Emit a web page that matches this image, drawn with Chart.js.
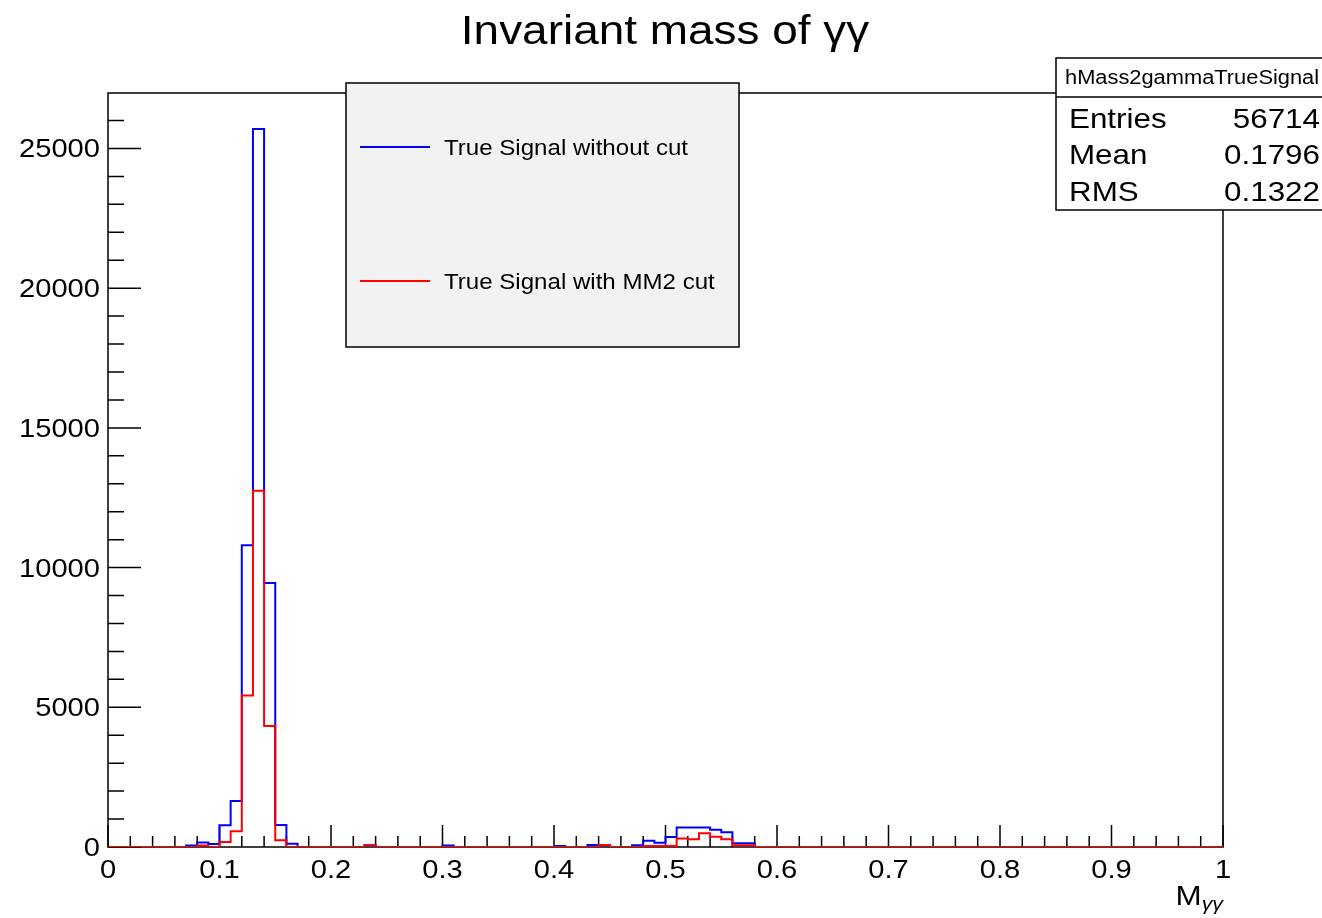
<!DOCTYPE html>
<html>
<head>
<meta charset="utf-8">
<title>Invariant mass of γγ</title>
<script src="https://cdn.jsdelivr.net/npm/chart.js@4.4.1/dist/chart.umd.min.js"></script>
<style>
    html, body { margin: 0; padding: 0; background: #ffffff; }
    canvas { display: block; }
</style>
</head>
<body>
<canvas id="massChart" width="1322" height="918"></canvas>
<script>
// histogram binning: 100 bins of 0.01 between 0 and 1
var binLow = 0;
var binWidth = 0.01;

// hMass2gammaTrueSignal, no cut
var countsNoCut = [
    0, 0, 0, 0, 0, 0, 0, 50, 160, 110,
    780, 1650, 10800, 25700, 9450, 790, 120, 0, 0, 0,
    0, 0, 0, 60, 0, 0, 0, 0, 0, 0,
    50, 0, 0, 0, 0, 0, 0, 0, 0, 0,
    40, 0, 0, 70, 70, 0, 0, 60, 220, 150,
    360, 700, 700, 700, 620, 530, 130, 130, 0, 0,
    0, 0, 0, 0, 0, 0, 0, 0, 0, 0,
    0, 0, 0, 0, 0, 0, 0, 0, 0, 0,
    0, 0, 0, 0, 0, 0, 0, 0, 0, 0,
    0, 0, 0, 0, 0, 0, 0, 0, 0, 0
];

// same, after the MM2 cut
var countsMM2Cut = [
    0, 0, 0, 0, 0, 0, 0, 0, 50, 0,
    180, 560, 5420, 12750, 4330, 240, 0, 0, 0, 0,
    0, 0, 0, 60, 0, 0, 0, 0, 0, 0,
    0, 0, 0, 0, 0, 0, 0, 0, 0, 0,
    0, 0, 0, 0, 70, 0, 0, 0, 40, 40,
    40, 300, 280, 490, 370, 280, 60, 60, 0, 0,
    0, 0, 0, 0, 0, 0, 0, 0, 0, 0,
    0, 0, 0, 0, 0, 0, 0, 0, 0, 0,
    0, 0, 0, 0, 0, 0, 0, 0, 0, 0,
    0, 0, 0, 0, 0, 0, 0, 0, 0, 0
];

var seriesLabels = ['True Signal without cut', 'True Signal with MM2 cut'];
var seriesColors = ['#0000ff', '#ff0000'];

var xTickValues = [0, 0.1, 0.2, 0.3, 0.4, 0.5, 0.6, 0.7, 0.8, 0.9, 1];
var xTickLabels = ['0', '0.1', '0.2', '0.3', '0.4', '0.5', '0.6', '0.7', '0.8', '0.9', '1'];
var yTickValues = [0, 5000, 10000, 15000, 20000, 25000];

var statsName = 'hMass2gammaTrueSignal';
var statsRows = [['Entries', '56714'], ['Mean', '0.1796'], ['RMS', '0.1322']];

var FONT = '"Liberation Sans", Arial, Helvetica, sans-serif';
var STRETCH = 1.12;

// points at the left bin edges, plus the right edge of the last bin
function toSteps(counts) {
    var pts = [];
    for (var i = 0; i < counts.length; i++) {
        pts.push({ x: binLow + i * binWidth, y: counts[i] });
    }
    pts.push({ x: binLow + counts.length * binWidth, y: counts[counts.length - 1] });
    return pts;
}

function drawText(ctx, text, x, y, size, align, style) {
    ctx.save();
    ctx.font = (style || '') + ' ' + size + 'px ' + FONT;
    ctx.textAlign = align || 'left';
    ctx.textBaseline = 'alphabetic';
    ctx.fillStyle = '#000000';
    ctx.translate(x, y);
    ctx.scale(STRETCH, 1);
    ctx.fillText(text, 0, 0);
    ctx.restore();
}

function textWidth(ctx, text, size, style) {
    ctx.save();
    ctx.font = (style || '') + ' ' + size + 'px ' + FONT;
    var w = ctx.measureText(text).width * STRETCH;
    ctx.restore();
    return w;
}

// frame, ticks and tick labels in the ROOT style (ticks inside the frame)
var frameAxes = {
    id: 'frameAxes',
    beforeDraw: function (chart) {
        var ctx = chart.ctx;
        ctx.save();
        ctx.fillStyle = '#ffffff';
        ctx.fillRect(0, 0, chart.width, chart.height);
        ctx.restore();
    },
    beforeDatasetsDraw: function (chart) {
        var ctx = chart.ctx;
        var area = chart.chartArea;
        var xs = chart.scales.x;
        var ys = chart.scales.y;

        ctx.save();
        ctx.strokeStyle = '#000000';
        ctx.lineWidth = 1.5;
        ctx.strokeRect(area.left, area.top, area.right - area.left, area.bottom - area.top);

        ctx.beginPath();
        // x: minor ticks every 0.02, major every 0.1
        for (var k = 0; k <= 50; k++) {
            var px = xs.getPixelForValue(k * 0.02);
            var len = (k % 5 === 0) ? 22 : 11;
            ctx.moveTo(px, area.bottom);
            ctx.lineTo(px, area.bottom - len);
        }
        // y: minor ticks every 1000, major every 5000
        for (var v = 0; v <= ys.max; v += 1000) {
            var py = ys.getPixelForValue(v);
            var ylen = (v % 5000 === 0) ? 33 : 16;
            ctx.moveTo(area.left, py);
            ctx.lineTo(area.left + ylen, py);
        }
        ctx.stroke();
        ctx.restore();

        xTickValues.forEach(function (val, i) {
            drawText(ctx, xTickLabels[i], xs.getPixelForValue(val), area.bottom + 31, 26, 'center');
        });
        yTickValues.forEach(function (val) {
            drawText(ctx, String(val), area.left - 8, ys.getPixelForValue(val) + 9, 26, 'right');
        });
    },
    afterDatasetsDraw: function (chart) {
        var ctx = chart.ctx;
        var area = chart.chartArea;

        // title
        drawText(ctx, 'Invariant mass of \u03b3\u03b3', 665, 44, 41, 'center');

        // x axis title M_γγ, right aligned to the frame
        var subW = textWidth(ctx, '\u03b3\u03b3', 19, 'italic');
        drawText(ctx, '\u03b3\u03b3', area.right, 910, 19, 'right', 'italic');
        drawText(ctx, 'M', area.right - subW, 905, 28, 'right');

        // legend
        ctx.save();
        ctx.fillStyle = '#f2f2f2';
        ctx.fillRect(346, 83, 393, 264);
        ctx.strokeStyle = '#000000';
        ctx.lineWidth = 1.5;
        ctx.strokeRect(346, 83, 393, 264);
        var rowY = [147, 281];
        for (var i = 0; i < seriesLabels.length; i++) {
            ctx.strokeStyle = seriesColors[i];
            ctx.lineWidth = 2;
            ctx.beginPath();
            ctx.moveTo(360, rowY[i]);
            ctx.lineTo(430, rowY[i]);
            ctx.stroke();
        }
        ctx.restore();
        for (var j = 0; j < seriesLabels.length; j++) {
            drawText(ctx, seriesLabels[j], 444, rowY[j] + 8, 21.5, 'left');
        }

        // statistics box
        ctx.save();
        ctx.fillStyle = '#ffffff';
        ctx.fillRect(1056, 58, 280, 152);
        ctx.strokeStyle = '#000000';
        ctx.lineWidth = 1.5;
        ctx.strokeRect(1056, 58, 280, 152);
        ctx.beginPath();
        ctx.moveTo(1056, 97);
        ctx.lineTo(1336, 97);
        ctx.stroke();
        ctx.restore();
        drawText(ctx, statsName, 1065, 84, 19.5, 'left');
        var statsY = [128, 164, 201];
        statsRows.forEach(function (row, r) {
            drawText(ctx, row[0], 1069, statsY[r], 28, 'left');
            drawText(ctx, row[1], 1320, statsY[r], 28, 'right');
        });
    }
};

var yTop = 1.05 * Math.max.apply(null, countsNoCut);

new Chart(document.getElementById('massChart').getContext('2d'), {
    type: 'line',
    data: {
        datasets: [
            {
                label: seriesLabels[0],
                data: toSteps(countsNoCut),
                borderColor: seriesColors[0],
                borderWidth: 2,
                stepped: 'before',
                pointRadius: 0,
                fill: false,
                order: 1
            },
            {
                label: seriesLabels[1],
                data: toSteps(countsMM2Cut),
                borderColor: seriesColors[1],
                borderWidth: 2,
                stepped: 'before',
                pointRadius: 0,
                fill: false,
                order: 0
            }
        ]
    },
    options: {
        responsive: false,
        animation: false,
        layout: { padding: { left: 108, right: 99, top: 93, bottom: 71 } },
        plugins: {
            legend: { display: false },
            title: { display: false },
            tooltip: { enabled: false }
        },
        scales: {
            x: { type: 'linear', min: 0, max: 1, display: false },
            y: { type: 'linear', min: 0, max: yTop, display: false }
        }
    },
    plugins: [frameAxes]
});
</script>
</body>
</html>
